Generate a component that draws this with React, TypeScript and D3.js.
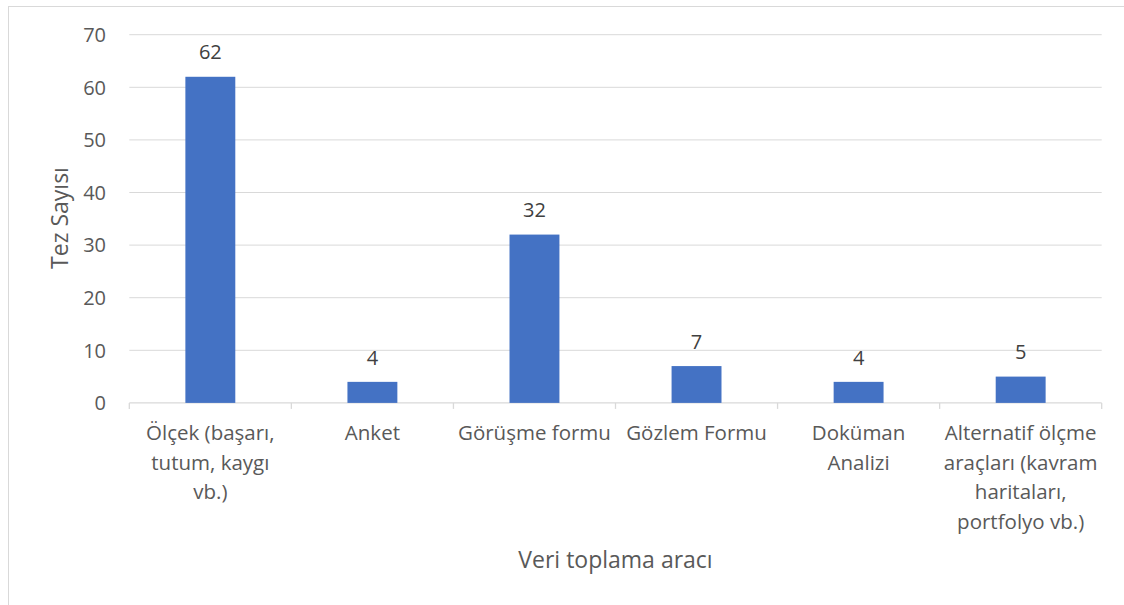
import React from "react";
import * as d3 from "d3";

const categories: string[] = [
  "Ölçek (başarı, tutum, kaygı vb.)",
  "Anket",
  "Görüşme formu",
  "Gözlem Formu",
  "Doküman Analizi",
  "Alternatif ölçme araçları (kavram haritaları, portfolyo vb.)",
];
const categoryLines: string[][] = [
  ["Ölçek (başarı,", "tutum, kaygı", "vb.)"],
  ["Anket"],
  ["Görüşme formu"],
  ["Gözlem Formu"],
  ["Doküman", "Analizi"],
  ["Alternatif ölçme", "araçları (kavram", "haritaları,", "portfolyo vb.)"],
];
const values: number[] = [62, 4, 32, 7, 4, 5];
const yTicks: number[] = [0, 10, 20, 30, 40, 50, 60, 70];
const xTitle = "Veri toplama aracı";
const yTitle = "Tez Sayısı";

const W = 1124;
const H = 605;
const left = 129.3;
const right = 1101.7;
const top = 34.7;
const bottom = 402.9;
const FONT = "'Open Sans', 'DejaVu Sans', sans-serif";

export default function App() {
  const x = d3.scaleBand<string>().domain(categories).range([left, right]).padding(0);
  const y = d3.scaleLinear().domain([0, 70]).range([bottom, top]);
  const bw = x.bandwidth() * 0.308;
  const boundaries = categories.map((c) => x(c) as number).concat([right]);

  return (
    <svg
      width={W}
      height={H}
      style={{ position: "absolute", left: 0, top: 0, background: "#fff" }}
      fontFamily={FONT}
    >
      <rect x={0} y={0} width={W} height={H} fill="#fff" />
      <rect x={8.5} y={6.5} width={W + 20} height={H + 20} fill="none" stroke="#d9d9d9" strokeWidth={1} />
      {yTicks.map((t) => (
        <g key={t}>
          {t !== 0 && (
            <line x1={left} x2={right} y1={y(t)} y2={y(t)} stroke="#d9d9d9" strokeWidth={1} />
          )}
          <text x={106} y={y(t) + 7.2} textAnchor="end" fontSize={20} fill="#595959">
            {t}
          </text>
        </g>
      ))}
      <line x1={left} x2={right} y1={bottom} y2={bottom} stroke="#d9d9d9" strokeWidth={1.3} />
      {boundaries.map((b, i) => (
        <line key={i} x1={b} x2={b} y1={bottom} y2={bottom + 6} stroke="#d9d9d9" strokeWidth={1.3} />
      ))}
      {categories.map((c, i) => {
        const cx = (x(c) as number) + x.bandwidth() / 2;
        return (
          <g key={c}>
            <rect x={cx - bw / 2} y={y(values[i])} width={bw} height={bottom - y(values[i])} fill="#4472C4" />
            <text x={cx} y={y(values[i]) - 17.3} textAnchor="middle" fontSize={20} fill="#404040">
              {values[i]}
            </text>
            <text textAnchor="middle" fontSize={20.5} fill="#595959">
              {categoryLines[i].map((ln, j) => (
                <tspan key={j} x={cx} y={440 + j * 29.6}>
                  {ln}
                </tspan>
              ))}
            </text>
          </g>
        );
      })}
      <text x={(left + right) / 2} y={567.7} textAnchor="middle" fontSize={23} fill="#595959">
        {xTitle}
      </text>
      <text
        transform={`translate(${68}, ${218}) rotate(-90)`}
        textAnchor="middle"
        fontSize={23}
        fill="#595959"
      >
        {yTitle}
      </text>
    </svg>
  );
}
